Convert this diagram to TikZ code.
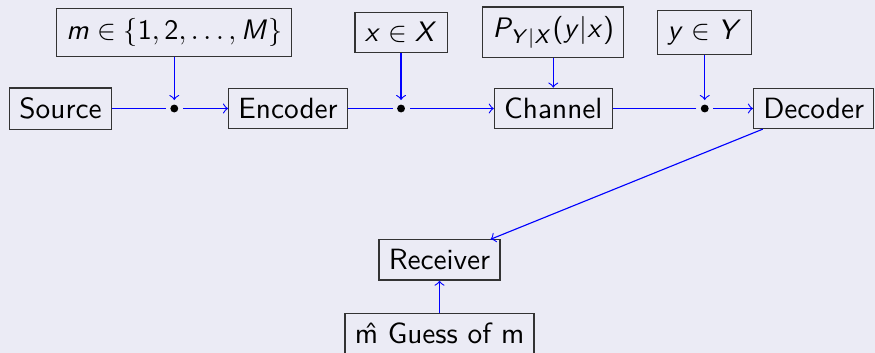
\documentclass[tikz,border=0pt]{standalone}
\usetikzlibrary{positioning,arrows}
\definecolor{framebg}{RGB}{235,235,245}
% sans serif math, as a slide would set it
\DeclareSymbolFont{sfit}{OT1}{cmss}{m}{sl}
\DeclareSymbolFont{sfup}{OT1}{cmss}{m}{n}
\DeclareMathSymbol{m}{\mathalpha}{sfit}{`m}
\DeclareMathSymbol{M}{\mathalpha}{sfit}{`M}
\DeclareMathSymbol{x}{\mathalpha}{sfit}{`x}
\DeclareMathSymbol{X}{\mathalpha}{sfit}{`X}
\DeclareMathSymbol{y}{\mathalpha}{sfit}{`y}
\DeclareMathSymbol{Y}{\mathalpha}{sfit}{`Y}
\DeclareMathSymbol{P}{\mathalpha}{sfit}{`P}
\DeclareMathSymbol{1}{\mathalpha}{sfup}{`1}
\DeclareMathSymbol{2}{\mathalpha}{sfup}{`2}
\DeclareMathSymbol{(}{\mathopen}{sfup}{`(}
\DeclareMathSymbol{)}{\mathclose}{sfup}{`)}

\begin{document}
\sffamily\fontsize{10.4}{12.5}\selectfont
\begin{tikzpicture}
   \useasboundingbox [fill=framebg] (0,0) rectangle (10.92,-4.405);
% Draw Channel Model
   \begin{scope}[ node distance=1.42cm,on grid,
                   every edge/.append style={blue},
                   block/.style={rectangle,draw=black!80,text=black},
                   junc/.style={circle,fill,inner sep=0pt,minimum size=2.8pt,outer sep=1.6pt} ]
     \node [block] (src)   at (0.755,-1.354)            {Source};
     \node [junc]  (j1)    [right=of src]                {} edge (src);
     \node [block] (msg)   [above=0.95cm of j1]          {$m \in \{1,2,\ldots,M\}$} edge [->] (j1);
     \node [block] (enc)   [right=of j1]                 {Encoder} edge [<-] (j1);
     \node [junc]  (j2)    [right=1.41cm of enc]         {} edge (enc);
     \node [block] (xin)   [above=0.95cm of j2]          {$x \in X$} edge [->] (j2);
     \node [block] (chan)  [right=1.9cm of j2]           {Channel} edge [<-] (j2);
     \node [block] (law)   [above=0.95cm of chan]        {$P_{Y|X}(y|x)$} edge [->] (chan);
     \node [junc]  (j3)    [right=1.89cm of chan]        {} edge (chan);
     \node [block] (yout)  [above=0.95cm of j3]          {$y \in Y$} edge [->] (j3);
     \node [block] (dec)   [right=1.36cm of j3]          {Decoder} edge [<-] (j3);
     \node [block] (recv)  [below=1.89cm of j2,xshift=0.48cm] {Receiver} edge [<-] (dec);
     \node [block] (guess) [below=0.92cm of recv]        {\^m Guess of m} edge [->] (recv);
   \end{scope}
\end{tikzpicture}
\end{document}
